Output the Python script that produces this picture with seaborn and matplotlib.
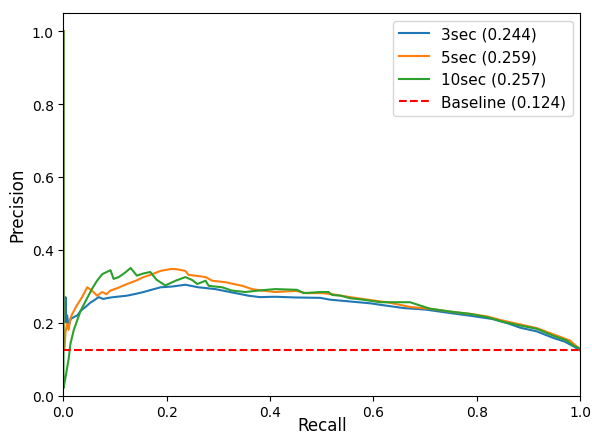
import matplotlib
matplotlib.use("Agg")
import matplotlib.pyplot as plt
import seaborn as sns
import pandas as pd

# precision-recall points
recall_3 = [0.0, 0.0, 0.003, 0.004, 0.005, 0.007, 0.01, 0.014, 0.02, 0.027, 0.033, 0.04, 0.046, 0.052, 0.058,
            0.068, 0.077, 0.087, 0.097, 0.11, 0.123, 0.14, 0.155, 0.17, 0.188, 0.21, 0.236, 0.261, 0.294,
            0.315, 0.333, 0.358, 0.38, 0.41, 0.45, 0.497, 0.516, 0.555, 0.594, 0.613, 0.658, 0.7, 0.75,
            0.787, 0.83, 0.86, 0.884, 0.916, 0.948, 0.97, 0.987, 1.0]
prec_3 = [1.0, 0.2, 0.22, 0.27, 0.2, 0.22, 0.19, 0.21, 0.215, 0.22, 0.232, 0.24, 0.247, 0.255, 0.26,
          0.27, 0.265, 0.268, 0.27, 0.272, 0.274, 0.279, 0.284, 0.29, 0.297, 0.299, 0.304, 0.297, 0.292,
          0.286, 0.281, 0.274, 0.27, 0.271, 0.269, 0.268, 0.263, 0.258, 0.253, 0.249, 0.24, 0.236, 0.226,
          0.219, 0.21, 0.198, 0.186, 0.176, 0.158, 0.148, 0.135, 0.124]

recall_5 = [0.0, 0.0, 0.002, 0.004, 0.007, 0.01, 0.013, 0.017, 0.025, 0.036, 0.046, 0.055, 0.065, 0.075, 0.083,
            0.091, 0.105, 0.123, 0.14, 0.155, 0.17, 0.188, 0.207, 0.217, 0.236, 0.242, 0.26, 0.275, 0.288,
            0.313, 0.346, 0.365, 0.384, 0.41, 0.45, 0.47, 0.5, 0.52, 0.555, 0.594, 0.63, 0.671, 0.71,
            0.75, 0.787, 0.82, 0.852, 0.884, 0.916, 0.948, 0.98, 0.993, 1.0]
prec_5 = [1.0, 0.13, 0.13, 0.175, 0.197, 0.18, 0.21, 0.224, 0.245, 0.27, 0.297, 0.288, 0.274, 0.284, 0.278,
          0.288, 0.295, 0.306, 0.315, 0.325, 0.332, 0.342, 0.347, 0.347, 0.342, 0.331, 0.328, 0.325, 0.315,
          0.311, 0.301, 0.292, 0.288, 0.284, 0.287, 0.281, 0.281, 0.278, 0.27, 0.262, 0.255, 0.243, 0.238,
          0.23, 0.224, 0.217, 0.205, 0.195, 0.185, 0.168, 0.151, 0.135, 0.126]

recall_10 = [0.0, 0.0, 0.004, 0.01, 0.0135, 0.02, 0.033, 0.045, 0.055, 0.065, 0.075, 0.091, 0.097, 0.107,
             0.12, 0.13, 0.142, 0.155, 0.168, 0.18, 0.197, 0.217, 0.236, 0.249, 0.259, 0.275, 0.281, 0.307,
             0.326, 0.352, 0.377, 0.41, 0.452, 0.465, 0.497, 0.513, 0.52, 0.536, 0.555, 0.58, 0.613, 0.671,
             0.69, 0.71, 0.75, 0.787, 0.82, 0.852, 0.884, 0.916, 0.948, 0.974, 0.987, 0.997, 1.0]
prec_10 = [1.0, 0.02, 0.05, 0.1, 0.142, 0.18, 0.232, 0.265, 0.292, 0.315, 0.333, 0.344, 0.32, 0.325,
           0.338, 0.35, 0.329, 0.335, 0.339, 0.318, 0.302, 0.315, 0.325, 0.317, 0.306, 0.315, 0.301, 0.297,
           0.288, 0.284, 0.288, 0.292, 0.29, 0.281, 0.284, 0.284, 0.276, 0.274, 0.267, 0.263, 0.256, 0.256,
           0.247, 0.238, 0.23, 0.224, 0.215, 0.202, 0.192, 0.183, 0.164, 0.151, 0.137, 0.131, 0.124]

labels = ["3sec (0.244)", "5sec (0.259)", "10sec (0.257)"]
baseline = 0.124

frames = []
for lab, r, p in zip(labels, [recall_3, recall_5, recall_10], [prec_3, prec_5, prec_10]):
    frames.append(pd.DataFrame({"recall": r, "precision": p, "model": lab}))
df = pd.concat(frames, ignore_index=True)

fig, ax = plt.subplots(figsize=(5.92, 4.35), dpi=100)
fig.subplots_adjust(left=0.1072, right=0.98, bottom=0.0885, top=0.968)

sns.lineplot(data=df, x="recall", y="precision", hue="model", palette=["#1f77b4", "#ff7f0e", "#2ca02c"],
             estimator=None, sort=False, linewidth=1.5, ax=ax)
ax.axhline(baseline, color="red", linestyle="--", linewidth=1.5, label="Baseline (%.3f)" % baseline)

ax.set_xlim(0, 1)
ax.set_ylim(0, 1.05)
ax.set_xlabel("Recall", fontsize=12, labelpad=-2)
ax.set_ylabel("Precision", fontsize=12)
ax.legend(loc="upper right", fontsize=11)

fig.savefig("out.png", dpi=100)
